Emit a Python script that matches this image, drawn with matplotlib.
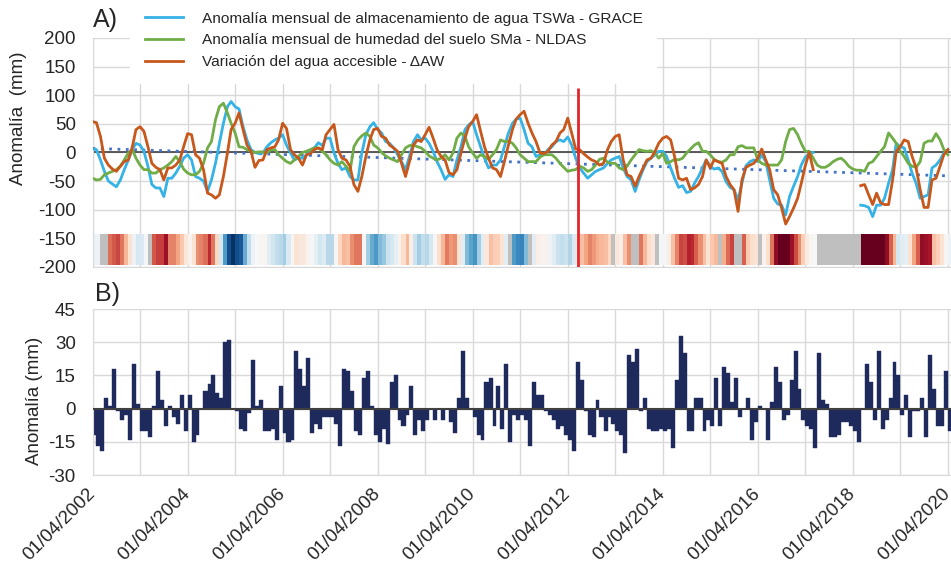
import numpy as np
import pandas as pd
import matplotlib
matplotlib.use("Agg")
import matplotlib.pyplot as plt
import matplotlib.dates as mdates
from matplotlib.colors import Normalize

plt.rcParams['font.family'] = ['Liberation Sans', 'DejaVu Sans']
plt.rcParams['axes.unicode_minus'] = False

# meses de 04/2002 a 04/2020 (217 valores)
fechas = pd.date_range('2002-04-01', periods=217, freq='MS')

nan = np.nan

# anomalia TWSa GRACE (mm), una fila por año abr-mar
twsa = [
    6, 5, -13, -33, -50, -55, -60, -48, -30, -13, 5, 16,
    13, 2, -24, -56, -62, -62, -77, -45, -45, -36, -24, -10,
    -4, -13, -42, -45, -50, -68, -48, -19, 16, 51, 80, 89,
    80, 76, 45, 22, 5, 0, -2, -1, 10, 17, 22, 25,
    31, 13, -1, -13, -10, -10, -4, 2, 8, 17, 12, 25,
    25, -1, -19, -30, -27, -42, -48, -48, -1, 31, 45, 52,
    40, 34, 19, 16, 8, -4, -16, -30, -7, 19, 31, 22,
    25, 16, 2, -16, -30, -47, -39, -42, -13, 10, 40, 48,
    54, 31, 10, -10, -27, -22, -22, -13, 10, 34, 51, 58,
    60, 40, 16, 10, -7, -4, -4, 5, 10, 19, 22, 19,
    27, 13, -10, -27, -36, -45, -39, -33, -30, -27, -19, -13,
    -10, -7, -27, -42, -48, -68, -48, -30, -16, -10, -4, 2,
    2, -7, -27, -45, -61, -58, -70, -68, -54, -42, -27, -13,
    -24, -29, -27, -33, -51, -61, -65, -83, -54, -23, -16, -13,
    -16, -4, -16, -48, -80, -90, -92, -109, -77, -59, -42, -22,
    -8, -2, 0, nan, nan, nan, nan, nan, nan, nan, nan, nan,
    nan, nan, -92, -93, -96, -112, -92, -92, -80, -54, -30, 16,
    10, 8, -13, -36, -54, -80, -77, -74, -27, -22, -13, -1,
    5,
]

# anomalia SMa NLDAS (mm)
sma = [
    -45, -48, -47, -39, -36, -33, -30, -24, -13, -1, 5, -10,
    -22, -30, -30, -36, -36, -30, -27, -22, -16, -7, -16, -29,
    -36, -39, -39, -33, -19, 8, 19, 57, 80, 86, 69, 51,
    34, 10, 9, 5, 2, 0, 1, 1, -1, 5, 5, -4,
    -10, -16, -19, -13, -7, 0, 2, 5, 8, 8, 2, -4,
    -13, -19, -22, -16, -24, -33, 10, 22, 29, 34, 28, 13,
    8, 0, -6, -10, -13, -16, -4, 8, 12, 13, 10, 8,
    2, -6, -10, -13, -10, -4, -13, -1, 25, 34, 28, 10,
    -1, -10, -4, -7, -12, -4, 5, 22, 19, 20, 16, 8,
    -4, -10, -16, -16, -16, -8, -4, -4, -4, -10, -19, -26,
    -33, -31, -30, -24, -27, -33, -30, -22, -12, -10, -17, -19,
    -19, -27, -30, -24, -13, -4, 5, 3, 2, 3, -1, -10,
    -2, -19, -16, -12, -13, -10, -1, 6, 13, 17, 2, 2,
    -4, -12, -16, -17, -13, -4, -4, 10, 12, 8, 8, 8,
    -13, -19, -22, -22, -22, -22, -13, 19, 40, 42, 31, 16,
    2, 2, -10, -22, -26, -26, -22, -16, -12, -10, -16, -24,
    -29, -31, -31, -33, -19, -16, -7, 2, 10, 34, 25, 16,
    2, -7, -19, -24, -26, -16, 16, 20, 20, 33, 22, 5,
    -4,
]

# variacion del agua accesible dAW (mm)
daw = [
    54, 52, 28, -10, -22, -29, -33, -24, -16, -13, 10, 40,
    45, 37, 10, -19, -26, -30, -48, -27, -27, -22, -13, 10,
    33, 31, -4, -10, -30, -71, -74, -80, -74, -42, -1, 40,
    51, 69, 40, 13, 2, -26, -14, -13, 5, 8, 10, 22,
    51, 42, 5, -4, -10, -22, -4, -2, 5, 8, 5, 31,
    40, 49, 5, -10, -13, -24, -56, -68, -42, -7, 22, 40,
    42, 28, 25, 13, 8, 2, -19, -42, -16, 13, 22, 19,
    31, 44, 25, 5, -7, -13, -35, -39, -30, -1, 25, 45,
    54, 66, 37, 10, -10, -27, -30, -42, -16, 13, 40, 58,
    66, 72, 51, 34, 19, -1, -2, 2, 13, 19, 34, 40,
    60, 34, 6, 5, -2, -8, -13, -16, -22, -19, 5, 19,
    28, 31, -13, -39, -42, -59, -42, -27, -13, -10, 2, 16,
    25, 28, 22, -7, -45, -48, -45, -65, -62, -56, -42, -13,
    -27, -13, -16, -19, -42, -56, -65, -103, -48, -26, -22, -19,
    -10, 6, -13, -30, -65, -74, -97, -125, -112, -97, -80, -54,
    -23, 0, -30, nan, nan, nan, nan, nan, nan, nan, nan, nan,
    nan, nan, -58, -56, -74, -91, -71, -88, -91, -91, -48, 2,
    10, 22, 19, -7, -27, -65, -96, -96, -48, -45, -24, -4,
    5,
]

# panel B: anomalia mensual (mm)
barras = [
    -12, -17, -19, 5, 1, 18, -1, -5, -3, -14, 20, 2,
    -10, -10, -13, 1, 17, 4, -8, 1, -4, -7, 6, -10,
    6, -15, -12, 0, 8, 11, 15, 7, 5, 30, 31, 0,
    -1, -9, -10, -2, 22, 1, 4, -10, -10, -9, -14, 10,
    -11, -15, -14, 26, 18, 10, 23, -11, -7, -9, -4, -4,
    -4, -7, -17, 18, 17, 8, -10, -12, 14, 17, 1, -12,
    -15, -9, -16, 12, 15, -5, -8, -3, 10, -12, -5, -10,
    -5, 0, -5, 0, -5, 0, -6, -11, 5, 26, 5, 0,
    -4, -12, -14, 12, 14, -8, 10, -9, 20, -15, -3, -5,
    -3, -5, -17, 12, 6, 6, -1, -3, -5, -9, -8, -12,
    -14, -19, 21, 13, -1, -12, -13, 4, -4, -10, -4, -7,
    -10, -12, -20, 24, 21, 27, -1, 5, -9, -10, -10, -9,
    -10, -9, -18, 13, 33, 25, -10, -10, 5, 5, -10, -5,
    -8, 14, -8, 19, 16, 3, 14, -4, 0, 5, -14, -6,
    1, 0, -14, 3, 19, 12, -5, -3, 13, 26, 9, -5,
    -8, -9, -18, 25, 4, 2, -13, -13, -12, -6, -6, -8,
    -10, -15, 0, 20, 12, -5, 26, -9, -5, 5, 21, 15,
    -3, 6, -13, -1, -1, 5, -13, 24, 9, -8, -8, 17,
    -10,
]

# meses sin dato GRACE (gris en la franja)
meses_sin_grace = ['2002-06', '2002-07', '2003-06', '2011-01', '2011-06',
                   '2013-03', '2013-08', '2013-09', '2014-02', '2015-06',
                   '2015-10', '2015-11', '2016-04']

fecha_corte = pd.Timestamp('2012-06-15')

etiquetas = ['Anomalía mensual de almacenamiento de agua TSWa - GRACE',
             'Anomalía mensual de humedad del suelo SMa - NLDAS',
             'Variación del agua accesible - ΔAW']

AZUL = '#35b2e6'
VERDE = '#70ad47'
NARANJA = '#c8571b'
NAVY = '#1f2a5c'
GRID = '#d9d9d9'
TXT = '#262626'

s_twsa = pd.Series(twsa, index=fechas, dtype=float)
s_sma = pd.Series(sma, index=fechas, dtype=float)
s_daw = pd.Series(daw, index=fechas, dtype=float)

fig = plt.figure(figsize=(9.51, 5.69), dpi=100)
axA = fig.add_axes([0.0973, 0.5308, 0.9027, 0.4025])
axB = fig.add_axes([0.0973, 0.1652, 0.9027, 0.2917], sharex=axA)

for ax in (axA, axB):
    ax.set_axisbelow(True)
    ax.grid(True, which='both', color=GRID, lw=1.0)
    for sp in ('top', 'right'):
        ax.spines[sp].set_visible(False)
    for sp in ('left', 'bottom'):
        ax.spines[sp].set_color(GRID)
    ax.tick_params(which='both', length=0, labelsize=13.5, colors=TXT, pad=12)
    ax.xaxis.set_major_locator(mdates.YearLocator(2, month=4, day=1))
    ax.xaxis.set_minor_locator(mdates.YearLocator(1, month=4, day=1))

# ---- panel A ----
# franja de color por mes
bordes = pd.date_range('2002-04-01', periods=218, freq='MS')
franja = s_twsa.copy()
for m in meses_sin_grace:
    franja[pd.Timestamp(m + '-01')] = np.nan
cmap = plt.get_cmap('RdBu').copy()
cmap.set_bad('#bfbfbf')
axA.pcolormesh(mdates.date2num(bordes), [-197, -142],
               np.ma.masked_invalid(franja.values)[None, :],
               cmap=cmap, norm=Normalize(-90, 90), zorder=1)

axA.axhline(0, color='#404040', lw=1.2, zorder=2)

# tendencia lineal de TWSa
xnum = np.arange(len(fechas))
ok = ~np.isnan(s_twsa.values)
coef = np.polyfit(xnum[ok], s_twsa.values[ok], 1)
axA.plot(fechas, np.polyval(coef, xnum), ls=(0, (1, 2)), color='#4472c4', lw=2, zorder=3)

axA.plot(fechas, s_twsa, color=AZUL, lw=2, label=etiquetas[0], zorder=4)
axA.plot(fechas, s_sma, color=VERDE, lw=2, label=etiquetas[1], zorder=4)
axA.plot(fechas, s_daw, color=NARANJA, lw=2, label=etiquetas[2], zorder=4)

axA.vlines(fecha_corte, -200, 113, color='#e0262e', lw=2, zorder=5)

axA.set_ylim(-200, 200)
axA.set_yticks(np.arange(-200, 201, 50))
axA.tick_params(axis='x', labelbottom=False)
axA.set_ylabel('Anomalía  (mm)', fontsize=13.5, color=TXT)
axA.yaxis.set_label_coords(-0.076, 0.65)

leg = axA.legend(loc='upper left', bbox_to_anchor=(130 / 951, 1 + 3 / 569),
                 bbox_transform=fig.transFigure, fontsize=11.1, frameon=True,
                 fancybox=False, framealpha=1, facecolor='white', edgecolor='none',
                 borderpad=0.95, handlelength=2.5, handletextpad=1.2,
                 labelspacing=0.5, borderaxespad=0)
for t in leg.get_texts():
    t.set_color(TXT)

# ---- panel B ----
anchos = np.diff(mdates.date2num(bordes))
axB.bar(mdates.date2num(fechas), barras, width=anchos, align='edge',
        color=NAVY, edgecolor=NAVY, lw=0.3, zorder=2)
axB.axhline(0, color='#404040', lw=1.5, zorder=3)
axB.set_ylim(-30, 45)
axB.set_yticks(np.arange(-30, 46, 15))
axB.set_ylabel('Anomalía (mm)', fontsize=13.5, color=TXT)
axB.yaxis.set_label_coords(-0.058, 0.446)
axB.xaxis.set_major_formatter(mdates.DateFormatter('%d/%m/%Y'))
axB.set_xlim(pd.Timestamp('2002-04-01'), pd.Timestamp('2020-04-25'))
for lab in axB.get_xticklabels():
    lab.set_rotation(45)
    lab.set_ha('right')
    lab.set_va('center')
    lab.set_rotation_mode('anchor')

fig.text(93 / 951, 1 - 27 / 569, 'A)', fontsize=18, color=TXT, va='baseline')
fig.text(95 / 951, 1 - 301 / 569, 'B)', fontsize=18, color=TXT, va='baseline')

fig.savefig('out.png', dpi=100)
